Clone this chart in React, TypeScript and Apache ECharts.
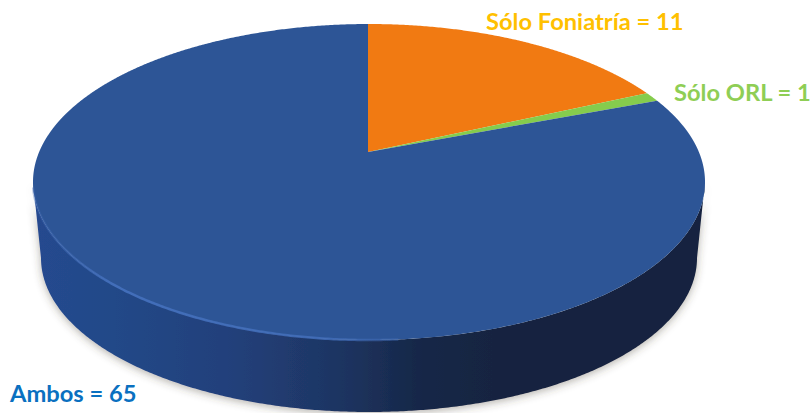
import React, { useEffect, useRef } from "react";
import * as echarts from "echarts";

// Survey counts, in clockwise order from twelve o'clock.
const categories = ["Sólo Foniatría", "Sólo ORL", "Ambos"];
const counts = [11, 1, 65];

const sliceColors = ["#f17a12", "#85cc4d", "#2d5596"];
const labelColors = ["#ffc000", "#8fce55", "#0a70c0"];
const labelAnchors: [number, number][] = [
  [486, 21],
  [674, 92],
  [10, 393],
];

// Tilted disc geometry: top face, bottom rim and the projected centre point.
const TOP = { cx: 369, cy: 182, rx: 336, ry: 158 };
const BOTTOM = { cx: 369, cy: 258, rx: 328, ry: 154 };
const APEX = { x: 368, y: 152 };
const FORESHORTEN = 3.78;

const total = counts.reduce((a, b) => a + b, 0);

// Where the ray for a pie angle (radians clockwise from the top) leaves the top face.
function rimPoint(theta: number): [number, number] {
  const dx = FORESHORTEN * Math.sin(theta);
  const dy = -Math.cos(theta);
  const ox = (APEX.x - TOP.cx) / TOP.rx;
  const oy = (APEX.y - TOP.cy) / TOP.ry;
  const ux = dx / TOP.rx;
  const uy = dy / TOP.ry;
  const a = ux * ux + uy * uy;
  const b = 2 * (ox * ux + oy * uy);
  const c = ox * ox + oy * oy - 1;
  const t = (-b + Math.sqrt(b * b - 4 * a * c)) / (2 * a);
  return [APEX.x + dx * t, APEX.y + dy * t];
}

function ellipseArc(e: typeof TOP, fromDeg: number, toDeg: number, step = 1): number[][] {
  const pts: number[][] = [];
  const dir = toDeg >= fromDeg ? 1 : -1;
  for (let d = fromDeg; dir > 0 ? d <= toDeg : d >= toDeg; d += dir * step) {
    const r = (d * Math.PI) / 180;
    pts.push([e.cx + e.rx * Math.cos(r), e.cy + e.ry * Math.sin(r)]);
  }
  return pts;
}

function sliceShape(index: number) {
  const before = counts.slice(0, index).reduce((a, b) => a + b, 0);
  const start = (before / total) * 2 * Math.PI;
  const end = ((before + counts[index]) / total) * 2 * Math.PI;
  const pts: number[][] = [[APEX.x, APEX.y]];
  const n = Math.max(8, Math.ceil(((end - start) * 180) / Math.PI / 0.25));
  for (let i = 0; i <= n; i++) pts.push(rimPoint(start + ((end - start) * i) / n));
  return pts;
}

const sideWall = () => [...ellipseArc(TOP, 0, 180, 0.5), ...ellipseArc(BOTTOM, 180, 0, 0.5)];

const sideGradient = {
  type: "linear",
  global: true,
  x: TOP.cx - TOP.rx,
  y: 0,
  x2: TOP.cx + TOP.rx,
  y2: 0,
  colorStops: [
    { offset: 0, color: "#25498f" },
    { offset: 0.12, color: "#234888" },
    { offset: 0.3, color: "#22407a" },
    { offset: 0.45, color: "#1e3563" },
    { offset: 0.58, color: "#162747" },
    { offset: 0.72, color: "#13233f" },
    { offset: 1, color: "#13233f" },
  ],
};

const rimGradient = {
  type: "linear",
  global: true,
  x: TOP.cx - TOP.rx,
  y: 0,
  x2: 480,
  y2: 0,
  colorStops: [
    { offset: 0, color: "rgba(62,104,178,0.35)" },
    { offset: 0.18, color: "rgba(66,110,186,1)" },
    { offset: 0.65, color: "rgba(66,110,186,0.85)" },
    { offset: 1, color: "rgba(62,104,178,0)" },
  ],
};

function renderSlice(params: any) {
  const i = params.dataIndex;
  const children: any[] = [];
  if (categories[i] === "Ambos") {
    children.push({
      type: "polygon",
      shape: { points: sideWall() },
      style: {
        fill: sideGradient,
        shadowColor: "rgba(70,60,50,0.4)",
        shadowBlur: 8,
        shadowOffsetY: 2,
      },
    });
  }
  children.push({
    type: "polygon",
    shape: { points: sliceShape(i) },
    style: { fill: sliceColors[i] },
  });
  if (categories[i] === "Ambos") {
    children.push({
      type: "polyline",
      shape: { points: ellipseArc(TOP, 85, 178, 0.5) },
      style: { stroke: rimGradient, lineWidth: 2.5, fill: "none" },
    });
  }
  children.push({
    type: "text",
    style: {
      x: labelAnchors[i][0],
      y: labelAnchors[i][1],
      text: `${categories[i]} = ${counts[i]}`,
      fill: labelColors[i],
      font: "bold 23.7px Lato",
      verticalAlign: "middle",
      align: "left",
    },
  });
  return { type: "group", children };
}

export default function App() {
  const ref = useRef<HTMLDivElement>(null);
  useEffect(() => {
    document.body.style.margin = "0";
    const chart = echarts.init(ref.current!, undefined, { renderer: "svg" });
    chart.setOption({
      animation: false,
      backgroundColor: "#ffffff",
      series: [
        {
          type: "custom",
          coordinateSystem: "none",
          data: counts,
          renderItem: renderSlice,
          silent: true,
        },
      ],
    });
    return () => chart.dispose();
  }, []);
  return <div ref={ref} style={{ width: 810, height: 413 }} />;
}
